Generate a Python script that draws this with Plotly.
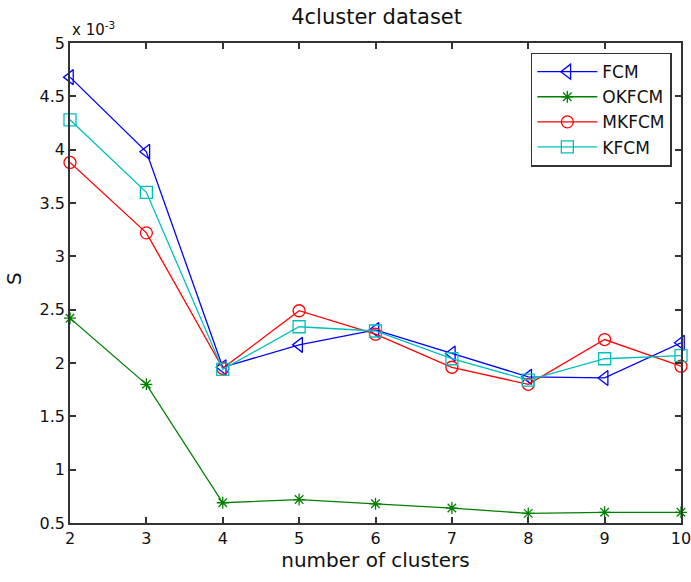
import plotly.graph_objects as go

# number of clusters
clusters = [2, 3, 4, 5, 6, 7, 8, 9, 10]
# S values (x 10^-3)
fcm = [4.68, 3.98, 1.96, 2.17, 2.31, 2.09, 1.87, 1.86, 2.19]
okfcm = [2.42, 1.80, 0.69, 0.72, 0.68, 0.64, 0.59, 0.60, 0.60]
mkfcm = [3.88, 3.22, 1.95, 2.49, 2.27, 1.96, 1.80, 2.22, 1.97]
kfcm = [4.28, 3.60, 1.94, 2.34, 2.30, 2.04, 1.84, 2.04, 2.07]

series = [
    ("FCM", fcm, "#0000FF", "triangle-left-open", 13),
    ("OKFCM", okfcm, "#008000", "asterisk-open", 10),
    ("MKFCM", mkfcm, "#FF0000", "circle-open", 12),
    ("KFCM", kfcm, "#00BFBF", "square-open", 12),
]

fig = go.Figure()
for name, vals, color, sym, size in series:
    fig.add_trace(go.Scatter(
        x=clusters, y=vals, name=name, mode="lines+markers",
        line=dict(color=color, width=1.3),
        marker=dict(symbol=sym, size=size, color=color, line=dict(color=color, width=1.3)),
        cliponaxis=False,
    ))

font = "DejaVu Sans, Arial, sans-serif"
txt = "#111111"
axis_common = dict(
    showline=True, linecolor="#333333", linewidth=1.5, mirror="ticks",
    ticks="inside", ticklen=6, tickcolor="#333333", tickwidth=1.5,
    showgrid=False, zeroline=False, automargin=False,
    tickfont=dict(family=font, size=16, color=txt),
)

fig.update_layout(
    width=691, height=582,
    paper_bgcolor="white", plot_bgcolor="white",
    margin=dict(l=70, r=10, t=43, b=59, pad=0),
    title=dict(text="4cluster dataset", x=0.545, xanchor="center", y=0.972, yanchor="middle",
               font=dict(family=font, size=21, color=txt)),
    xaxis=dict(range=[2, 10], dtick=1, tick0=2, ticklabeloverflow="allow",
               title=dict(text="number of clusters", font=dict(family=font, size=20, color=txt), standoff=4),
               **axis_common),
    yaxis=dict(range=[0.5, 5], dtick=0.5, tick0=0.5,
               **axis_common),
    legend=dict(x=0.985, y=0.98, xanchor="right", yanchor="top",
                bordercolor="#333333", borderwidth=1.5, bgcolor="white",
                font=dict(family=font, size=17, color=txt),
                tracegroupgap=0, itemwidth=60),
    showlegend=True,
    annotations=[
        dict(text="x 10<sup>-3</sup>", xref="paper", yref="paper", x=0.0, y=1.0,
             xanchor="left", yanchor="bottom", yshift=2, showarrow=False,
             font=dict(family=font, size=15, color=txt)),
        dict(text="S", xref="paper", yref="paper", x=-0.092, y=0.51,
             xanchor="center", yanchor="middle", textangle=-90, showarrow=False,
             font=dict(family=font, size=20, color=txt)),
    ],
)

fig.write_html("out.html", config={"displayModeBar": False},
               post_script="document.body.style.margin='0px';")
